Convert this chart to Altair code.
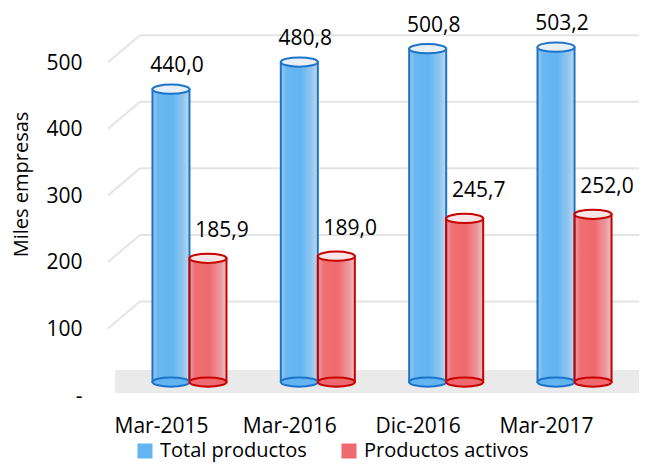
import altair as alt
import pandas as pd

# ---- data ----
categories = ["Mar-2015", "Mar-2016", "Dic-2016", "Mar-2017"]
series_names = ["Total productos", "Productos activos"]
total_productos = [440.0, 480.8, 500.8, 503.2]
productos_activos = [185.9, 189.0, 245.7, 252.0]
y_ticks = [0, 100, 200, 300, 400, 500]
grid_values = [100, 200, 300, 400, 500]

rows = []
for c, t, a in zip(categories, total_productos, productos_activos):
    rows.append({"periodo": c, "serie": series_names[0], "valor": t})
    rows.append({"periodo": c, "serie": series_names[1], "valor": a})
df = pd.DataFrame(rows)
grid_df = pd.DataFrame({"valor": grid_values})
floor_df = pd.DataFrame({"valor": [0]})

FONT = "Open Sans"
fill_colors = ["#63B4F0", "#EF6A6E"]
stroke_colors = ["#1C74C8", "#C80000"]
cap_colors = ["#E8EFF7", "#F7E6E7"]
ELLIPSE = "M -1 0 A 1 0.25 0 1 1 1 0 A 1 0.25 0 1 1 -1 0 Z"

y_scale = alt.Scale(domain=[0, 550], nice=False, zero=True)
Y_TITLE = "Miles empresas"

x_enc = alt.X(
    "periodo:N", sort=categories,
    scale=alt.Scale(paddingInner=0.4234, paddingOuter=0.214),
    axis=alt.Axis(title=None, domain=False, ticks=False, tickSize=0, grid=False,
                  labelAngle=0, labelFont=FONT, labelFontSize=21, labelColor="#000",
                  labelPadding=33, labelOffset=-28),
)
xoff_enc = alt.XOffset("serie:N", sort=series_names,
                       scale=alt.Scale(domain=series_names, paddingInner=0, paddingOuter=0))
y_enc = alt.Y(
    "valor:Q", scale=y_scale, title=Y_TITLE,
    axis=alt.Axis(values=y_ticks, grid=False, domain=False, ticks=False, tickSize=0,
                  labelPadding=43, labelOffset=14, labelFont=FONT, labelFontSize=21,
                  labelColor="#000",
                  labelExpr="datum.value == 0 ? '-' : datum.label",
                  titleFont=FONT, titleFontSize=20, titleFontWeight="normal",
                  titleColor="#000", titleX=-98, titleY=168, titleAngle=270,
                  titleAlign="center", titleBaseline="alphabetic"),
)

# floor (3D base) and back-wall gridlines
floor = alt.Chart(floor_df).mark_rect(color="#EAEAEA", yOffset=-12, y2Offset=11).encode(
    y=alt.Y("valor:Q", scale=y_scale, title=Y_TITLE),
    y2=alt.Y2("valor:Q"),
    x=alt.value(-10), x2=alt.value(514),
)
grid = alt.Chart(grid_df).mark_rule(color="#E4E4E4", strokeWidth=2, yOffset=-14).encode(
    y=alt.Y("valor:Q", scale=y_scale, title=Y_TITLE),
    x=alt.value(15), x2=alt.value(514),
)
grid_slant = alt.Chart(grid_df).mark_rule(color="#E4E4E4", strokeWidth=2,
                                          yOffset=-14, y2Offset=13).encode(
    y=alt.Y("valor:Q", scale=y_scale, title=Y_TITLE),
    y2=alt.Y2("valor:Q"),
    x=alt.value(15), x2=alt.value(-17),
)

base = alt.Chart(df).encode(x=x_enc, xOffset=xoff_enc, y=y_enc)

legend = alt.Legend(title=None, orient="none", legendX=10, legendY=425,
                    direction="horizontal", symbolType="square", symbolSize=225,
                    symbolStrokeWidth=0, symbolOpacity=1, labelFont=FONT,
                    labelFontSize=20, labelColor="#000", labelOffset=5,
                    labelLimit=400, columnPadding=32, padding=0)

bars_fill = base.mark_bar(strokeWidth=0).encode(
    color=alt.Color("serie:N", sort=series_names,
                    scale=alt.Scale(domain=series_names, range=fill_colors),
                    legend=legend)
)
shade = alt.Gradient(
    gradient="linear", x1=0, x2=1, y1=0, y2=0,
    stops=[
        alt.GradientStop(offset=0, color="rgba(200,205,215,0.50)"),
        alt.GradientStop(offset=0.14, color="rgba(255,255,255,0.04)"),
        alt.GradientStop(offset=0.55, color="rgba(255,255,255,0.0)"),
        alt.GradientStop(offset=0.82, color="rgba(225,228,232,0.35)"),
        alt.GradientStop(offset=1, color="rgba(232,234,238,0.70)"),
    ],
)
bars_shade = base.mark_bar(fill=shade, strokeWidth=0)
stroke_enc = alt.Stroke("serie:N", sort=series_names,
                        scale=alt.Scale(domain=series_names, range=stroke_colors),
                        legend=None)
bars_stroke = base.mark_bar(fillOpacity=0, strokeWidth=2).encode(stroke=stroke_enc)

caps_bottom = base.mark_point(shape=ELLIPSE, size=1369, filled=True, strokeWidth=2,
                              opacity=1).encode(
    y=alt.datum(0),
    color=alt.Color("serie:N", sort=series_names,
                    scale=alt.Scale(domain=series_names, range=fill_colors),
                    legend=legend),
    stroke=stroke_enc,
)
caps_top = base.mark_point(shape=ELLIPSE, size=1369, filled=True, strokeWidth=2,
                           opacity=1).encode(
    fill=alt.Fill("serie:N", sort=series_names,
                  scale=alt.Scale(domain=series_names, range=cap_colors), legend=None),
    stroke=stroke_enc,
)

label_calc = "replace(format(datum.valor, '.1f'), '.', ',')"
labels_total = base.transform_filter(alt.datum.serie == series_names[0]).transform_calculate(
    lbl=label_calc).mark_text(font=FONT, fontSize=21, dy=-23, dx=6, baseline="middle",
                              color="#000").encode(text="lbl:N")
labels_act = base.transform_filter(alt.datum.serie == series_names[1]).transform_calculate(
    lbl=label_calc).mark_text(font=FONT, fontSize=21, dy=-27, dx=14, baseline="middle",
                              color="#000").encode(text="lbl:N")

chart = alt.layer(
    floor, grid, grid_slant, bars_fill, bars_shade, bars_stroke,
    caps_bottom, caps_top, labels_total, labels_act,
).properties(
    width=514, height=366,
    autosize=alt.AutoSizeParams(type="none"),
    padding={"left": 117, "top": 8, "right": 2, "bottom": 80},
    background="white",
).configure_view(stroke=None)

chart.save("out.html", embed_options={"renderer": "svg", "actions": False})
